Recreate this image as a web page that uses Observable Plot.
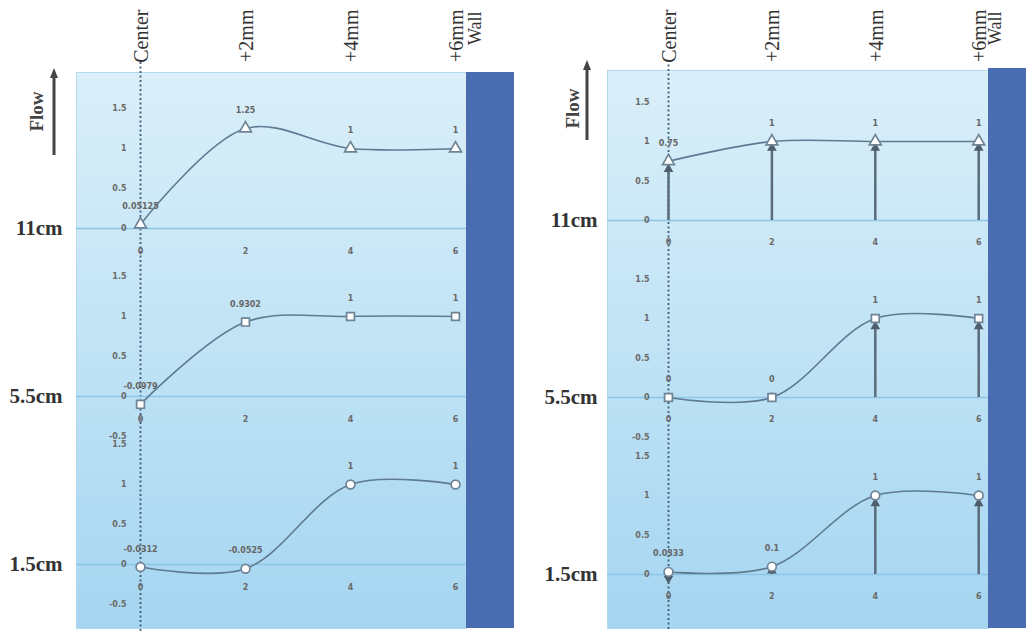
<!DOCTYPE html>
<html><head><meta charset="utf-8">
<script src="https://cdn.jsdelivr.net/npm/d3@7"></script>
<script src="https://cdn.jsdelivr.net/npm/@observablehq/plot@0.6"></script>
<style>
body{margin:0;background:#fff}
#wrap{position:relative;width:1026px;height:631px;overflow:hidden;background:#fff}
.layer{position:absolute;top:0}
</style>
</head><body><div id="wrap"></div>
<script>
// ---- data ----
const rows = ["11cm", "5.5cm", "1.5cm"];
const positions = [0, 2, 4, 6];
const headers = ["Center", "+2mm", "+4mm", "+6mm"];
const wallLabel = "Wall";
const flowLabel = "Flow";
const rowSymbols = ["triangle", "square", "circle"];
const xTickLabels = ["0", "2", "4", "6"];

const left11 = [0.05125, 1.25, 1, 1];
const left55 = [-0.0979, 0.9302, 1, 1];
const left15 = [-0.0312, -0.0525, 1, 1];

const right11 = [0.75, 1, 1, 1];
const right55 = [0, 0, 1, 1];
const right15 = [0.0333, 0.1, 1, 1];

const right11Arrows = [0.65, 0.92, 0.92, 0.92];
const right55Arrows = [0, 0, 0.9, 0.9];
const right15Arrows = [-0.05, 0.05, 0.9, 0.9];

const leftYTicks11 = [0, 0.5, 1, 1.5];
const leftYTicks55 = [-0.5, 0, 0.5, 1, 1.5];
const leftYTicks15 = [-0.5, 0, 0.5, 1, 1.5];
const rightYTicks11 = [0, 0.5, 1, 1.5];
const rightYTicks55 = [-0.5, 0, 0.5, 1, 1.5];
const rightYTicks15 = [0, 0.5, 1, 1.5];

// ---- layout ----
const leftCfg = {id: "L", left: 0, width: 514, box: 76, zero: 140, wall: 466, unit: 52.5, frameTop: 72,
  dataTop: 104, dataBottom: 23, yDomain: [-0.55, 1.55], rowDx: -14, tickDx: -14, xTickDy: 23,
  flowDx: -47, flowDy: 39, wallDx: 2};
const rightCfg = {id: "R", left: 514, width: 512, box: 93, zero: 154, wall: 474, unit: 51.7, frameTop: 70,
  dataTop: 97, dataBottom: 3, yDomain: [-0.683, 1.557], rowDx: -10, tickDx: -19, xTickDy: 22,
  flowDx: -42, flowDy: 38, wallDx: 0};

const serif = "'Liberation Serif', 'DejaVu Serif', serif";
const small = "'DejaVu Sans', Verdana, sans-serif";
const lineColor = "#5d7a90";
const markColor = "#6e8394";

function gradientDefs(id) {
  return () => {
    const defs = d3.create("svg:defs");
    const g = defs.append("linearGradient").attr("id", id)
      .attr("x1", 0).attr("y1", 0).attr("x2", 0).attr("y2", 1);
    g.append("stop").attr("offset", "0%").attr("stop-color", "#daeff9");
    g.append("stop").attr("offset", "50%").attr("stop-color", "#c0e3f5");
    g.append("stop").attr("offset", "100%").attr("stop-color", "#a5d5f1");
    return defs.node();
  };
}

function buildPanel(cfg, series, yTicks, arrows) {
  const wrap = document.getElementById("wrap");
  const unit = cfg.unit;
  const xL = (cfg.box - cfg.zero) / unit;
  const xW = (cfg.wall - cfg.zero) / unit;
  const xR = (cfg.width - cfg.zero) / unit;
  const gid = "grad" + cfg.id;

  const headerData = positions.map((p, i) => ({x: p, label: headers[i]}));

  const frame = Plot.plot({
    width: cfg.width, height: 631,
    marginLeft: cfg.box, marginRight: cfg.width - cfg.wall,
    marginTop: cfg.frameTop, marginBottom: 3,
    x: {domain: [xL, xW], axis: null},
    y: {axis: null},
    style: {background: "transparent", overflow: "visible"},
    marks: [
      gradientDefs(gid),
      Plot.frame({fill: `url(#${gid})`, stroke: "#b4d9ee", strokeWidth: 1}),
      Plot.rect([{x1: xW, x2: xR}], {x1: "x1", x2: "x2", fill: "#4a6db2", insetTop: cfg.id === "R" ? -2 : 0}),
      Plot.ruleX([positions[0]], {stroke: "#3f5b78", strokeWidth: 1.8, strokeDasharray: "2,2.5", insetTop: -10, insetBottom: -3}),
      Plot.text(headerData, {x: "x", text: "label", frameAnchor: "top", dy: -(cfg.frameTop - 9), dx: -7,
        rotate: -90, textAnchor: "end", fontSize: 20, fontFamily: serif, fill: "#333"}),
      Plot.text([wallLabel], {x: xW, text: d => d, frameAnchor: "top", dy: -(cfg.frameTop - 11), dx: cfg.wallDx,
        rotate: -90, textAnchor: "end", fontSize: 18, fontFamily: serif, fill: "#333"}),
      Plot.text([flowLabel], {text: d => d, frameAnchor: "top-left", dx: cfg.flowDx, dy: cfg.flowDy,
        rotate: -90, textAnchor: "middle", fontSize: 19, fontWeight: "bold", fontFamily: serif, fill: "#444"})
    ]
  });

  const table = [], labelsTicks = [], xTicks = [], arrowData = [];
  rows.forEach((r, ri) => {
    series[ri].forEach((v, i) => table.push({row: r, x: positions[i], v, label: String(v), sym: rowSymbols[ri]}));
    yTicks[ri].forEach(t => labelsTicks.push({row: r, v: t, label: String(t)}));
    positions.forEach((p, i) => xTicks.push({row: r, x: p, label: xTickLabels[i]}));
    if (arrows) arrows[ri].forEach((a, i) => arrowData.push({row: r, x: positions[i], a}));
  });

  const data = Plot.plot({
    width: cfg.width, height: 631,
    marginLeft: cfg.box, marginRight: cfg.width - cfg.wall,
    marginTop: cfg.dataTop, marginBottom: cfg.dataBottom,
    x: {domain: [xL, xW], axis: null},
    y: {domain: cfg.yDomain, axis: null},
    fy: {domain: rows, padding: 0, axis: null},
    style: {background: "transparent", overflow: "visible"},
    marks: [
      Plot.ruleY([0], {stroke: "#8cc5e6", strokeWidth: 1.6}),
      Plot.text(rows, {fy: d => d, y: 0, frameAnchor: "left", dx: cfg.rowDx, text: d => d,
        textAnchor: "end", fontSize: 21, fontFamily: serif, fontWeight: "600", fill: "#333"}),
      Plot.text(labelsTicks, {fy: "row", x: 0, y: "v", text: "label", dx: cfg.tickDx, textAnchor: "end",
        fontSize: 8, fontWeight: "bold", fontFamily: small, fill: "#6a6a6a"}),
      Plot.text(xTicks, {fy: "row", x: "x", y: 0, dy: cfg.xTickDy, text: "label",
        fontSize: 8, fontWeight: "bold", fontFamily: small, fill: "#6a6a6a"}),
      ...(arrows ? [
        Plot.ruleX(arrowData, {fy: "row", x: "x", y1: 0, y2: "a", stroke: "#5a6c7b", strokeWidth: 2.5}),
        Plot.dot(arrowData, {fy: "row", x: "x", y: "a", symbol: "triangle", r: 3.6, fill: "#4e5e6c",
          rotate: d => d.a < 0 ? 180 : 0})
      ] : []),
      Plot.line(table, {fy: "row", x: "x", y: "v", z: "row", curve: "catmull-rom", stroke: lineColor, strokeWidth: 1.6}),
      Plot.dot(table, {fy: "row", x: "x", y: "v", symbol: "sym", r: 4.4, fill: "white", stroke: markColor, strokeWidth: 1.7}),
      Plot.text(table, {fy: "row", x: "x", y: "v", text: "label", dy: -18,
        fontSize: 8, fontWeight: "bold", fontFamily: small, fill: "#666"})
    ]
  });

  [frame, data].forEach(el => {
    el.classList.add("layer");
    el.style.left = cfg.left + "px";
    wrap.appendChild(el);
  });
}

buildPanel(leftCfg, [left11, left55, left15], [leftYTicks11, leftYTicks55, leftYTicks15], null);
buildPanel(rightCfg, [right11, right55, right15], [rightYTicks11, rightYTicks55, rightYTicks15],
  [right11Arrows, right55Arrows, right15Arrows]);

// Flow arrows (decorative)
const deco = d3.select("#wrap").append("svg").attr("class", "layer").style("left", "0px")
  .attr("width", 1026).attr("height", 631).style("pointer-events", "none");
[[54, 155, 68], [587, 140, 60]].forEach(([x, y0, y1]) => {
  deco.append("line").attr("x1", x).attr("x2", x).attr("y1", y0).attr("y2", y1 + 8)
    .attr("stroke", "#444").attr("stroke-width", 3);
  deco.append("path").attr("d", `M${x},${y1} L${x - 4},${y1 + 10} L${x + 4},${y1 + 10} Z`).attr("fill", "#444");
});
</script>
</body></html>
